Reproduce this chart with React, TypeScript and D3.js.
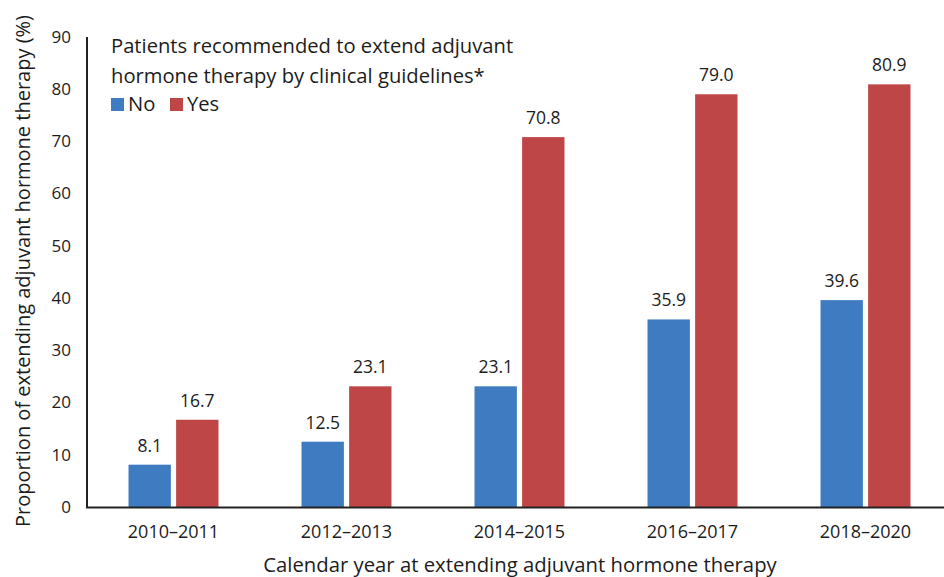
import React from "react";
import * as d3 from "d3";

const categories = ["2010–2011", "2012–2013", "2014–2015", "2016–2017", "2018–2020"];
const seriesNames = ["No", "Yes"];
const noValues = [8.1, 12.5, 23.1, 35.9, 39.6];
const yesValues = [16.7, 23.1, 70.8, 79.0, 80.9];
const yTicks = [0, 10, 20, 30, 40, 50, 60, 70, 80, 90];
const colors = ["#3F7BC0", "#BF4647"];

const W = 944;
const H = 577;
const FONT = "'Open Sans', 'Noto Sans', sans-serif";
const TXT = "#1c1c1c";

export default function App() {
  const x0 = d3.scaleBand<string>().domain(categories).range([87, 952]).paddingInner(0.48).paddingOuter(0.24);
  const x1 = d3.scaleBand<string>().domain(seriesNames).range([0, x0.bandwidth()]).paddingInner(0.11);
  const y = d3.scaleLinear().domain([0, 90]).range([507, 36.8]);
  const series = [noValues, yesValues];

  return (
    <svg width={W} height={H} style={{ position: "absolute", left: 0, top: 0, background: "#fff" }} fontFamily={FONT}>
      {/* y tick labels */}
      {yTicks.map((t) => (
        <text key={t} x={71} y={y(t)} dy="0.35em" textAnchor="end" fontSize={17} fill={TXT}>
          {t}
        </text>
      ))}
      {/* bars */}
      {categories.map((c, i) =>
        seriesNames.map((s, j) => {
          const v = series[j][i];
          const bx = (x0(c) ?? 0) + (x1(s) ?? 0);
          return (
            <g key={c + s}>
              <rect x={bx} y={y(v)} width={x1.bandwidth()} height={y(0) - y(v)} fill={colors[j]} />
              <text x={bx + x1.bandwidth() / 2} y={y(v) - 13} textAnchor="middle" fontSize={17.5} fill={TXT}>
                {v.toFixed(1)}
              </text>
            </g>
          );
        })
      )}
      {/* axes */}
      <line x1={87} x2={87} y1={37} y2={508} stroke="#222" strokeWidth={2} />
      <line x1={86} x2={944} y1={507.5} y2={507.5} stroke="#222" strokeWidth={2} />
      {/* x tick labels */}
      {categories.map((c) => (
        <text key={c} x={(x0(c) ?? 0) + x0.bandwidth() / 2} y={538} textAnchor="middle" fontSize={18} fill={TXT}>
          {c}
        </text>
      ))}
      {/* axis titles */}
      <text x={520} y={572} textAnchor="middle" fontSize={20.3} fill={TXT}>
        Calendar year at extending adjuvant hormone therapy
      </text>
      <text transform="translate(30,271) rotate(-90)" textAnchor="middle" fontSize={20} fill={TXT}>
        Proportion of extending adjuvant hormone therapy (%)
      </text>
      {/* legend */}
      <text x={111} y={53} fontSize={20.2} fill={TXT}>
        Patients recommended to extend adjuvant
      </text>
      <text x={111} y={83} fontSize={20.2} fill={TXT}>
        hormone therapy by clinical guidelines*
      </text>
      {seriesNames.map((s, j) => {
        const lx = 111 + j * 59;
        return (
          <g key={s}>
            <rect x={lx} y={98} width={13} height={13} fill={colors[j]} />
            <text x={lx + 17} y={111} fontSize={20.2} fill={TXT}>
              {s}
            </text>
          </g>
        );
      })}
    </svg>
  );
}
